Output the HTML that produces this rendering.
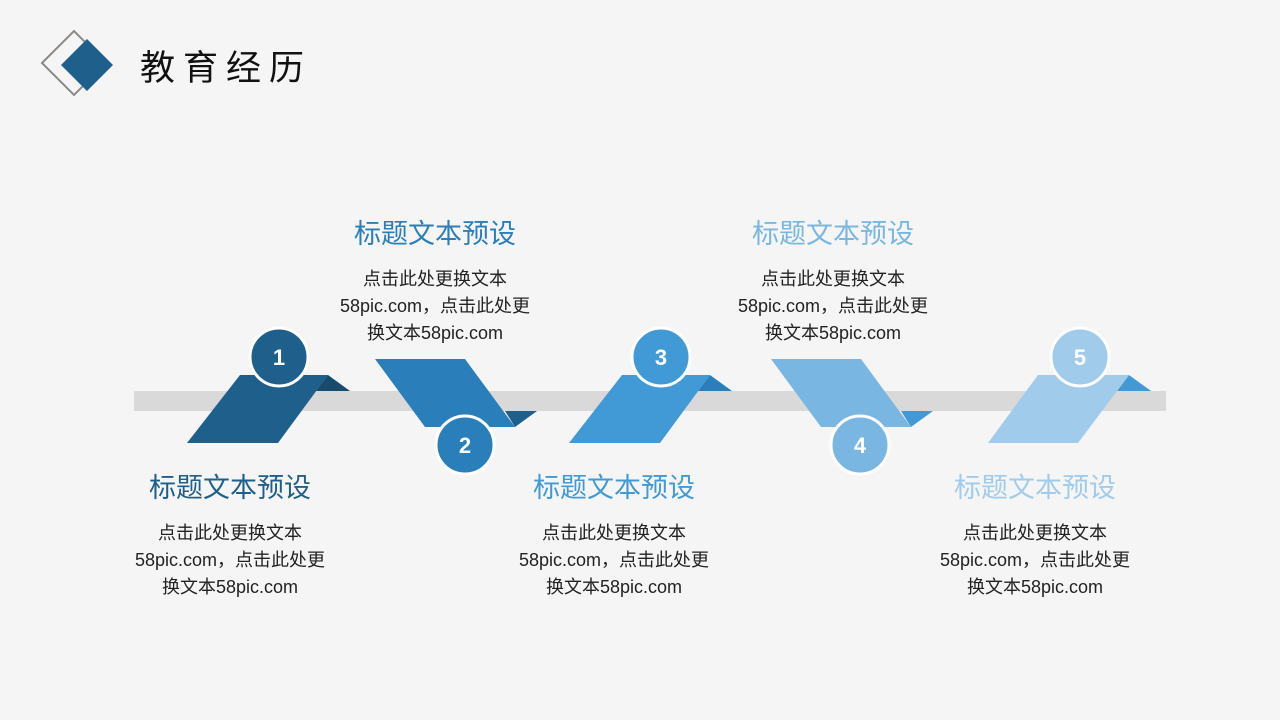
<!DOCTYPE html>
<html><head><meta charset="utf-8"><style>
body{margin:0;background:#f5f5f5;overflow:hidden;}
svg{display:block;}
svg text{font-family:"Liberation Sans","Noto Sans CJK SC",sans-serif;}
</style></head><body>
<svg width="1280" height="720" viewBox="0 0 1280 720" xmlns="http://www.w3.org/2000/svg">
<rect width="1280" height="720" fill="#f5f5f5"/>
<polygon points="42,63 74,31 106,63 74,95" fill="none" stroke="#8a8a8a" stroke-width="2"/>
<polygon points="61,65 87,39 113,65 87,91" fill="#1f5f8b"/>
<text x="140" y="80" font-size="35" fill="#111" letter-spacing="8">教育经历</text>
<rect x="134" y="391" width="1032" height="20" fill="#d9d9d9"/>
<polygon points="328,375 350,391 316,391" fill="#174a6d"/>
<polygon points="240,375 328,375 278,443 187,443" fill="#1f5f8b"/>
<polygon points="515,427 537,411 505,411" fill="#1f5f8b"/>
<polygon points="375,359 465,359 515,427 425,427" fill="#2a7fba"/>
<polygon points="710,375 732,391 698,391" fill="#2a7fba"/>
<polygon points="622,375 710,375 660,443 569,443" fill="#419ad6"/>
<polygon points="911,427 933,411 901,411" fill="#419ad6"/>
<polygon points="771,359 861,359 911,427 821,427" fill="#7ab6e2"/>
<polygon points="1129,375 1151,391 1117,391" fill="#419ad6"/>
<polygon points="1038,375 1129,375 1078,443 988,443" fill="#a1cbea"/>
<g stroke="#fff" stroke-width="3">
<circle cx="279" cy="357" r="29" fill="#1f5f8b"/>
<circle cx="465" cy="445" r="29" fill="#2a7fba"/>
<circle cx="661" cy="357" r="29" fill="#419ad6"/>
<circle cx="860" cy="445" r="29" fill="#7ab6e2"/>
<circle cx="1080" cy="357" r="29" fill="#a1cbea"/>
</g>
<g fill="#fff" font-size="22" font-weight="bold" text-anchor="middle">
<text x="279" y="365">1</text><text x="465" y="453">2</text><text x="661" y="365">3</text><text x="860" y="453">4</text><text x="1080" y="365">5</text>
</g>
<g text-anchor="middle">
<text x="435" y="243" font-size="27" fill="#2a7fba">标题文本预设</text>
<text x="833" y="243" font-size="27" fill="#7ab6e2">标题文本预设</text>
<text x="230" y="497" font-size="27" fill="#1f5f8b">标题文本预设</text>
<text x="614" y="497" font-size="27" fill="#419ad6">标题文本预设</text>
<text x="1035" y="497" font-size="27" fill="#a1cbea">标题文本预设</text>
<g font-size="18" fill="#222">
<text x="435" y="285">点击此处更换文本</text><text x="435" y="312">58pic.com，点击此处更</text><text x="435" y="339">换文本58pic.com</text>
<text x="833" y="285">点击此处更换文本</text><text x="833" y="312">58pic.com，点击此处更</text><text x="833" y="339">换文本58pic.com</text>
<text x="230" y="539">点击此处更换文本</text><text x="230" y="566">58pic.com，点击此处更</text><text x="230" y="593">换文本58pic.com</text>
<text x="614" y="539">点击此处更换文本</text><text x="614" y="566">58pic.com，点击此处更</text><text x="614" y="593">换文本58pic.com</text>
<text x="1035" y="539">点击此处更换文本</text><text x="1035" y="566">58pic.com，点击此处更</text><text x="1035" y="593">换文本58pic.com</text>
</g></g>
</svg>
</body></html>
